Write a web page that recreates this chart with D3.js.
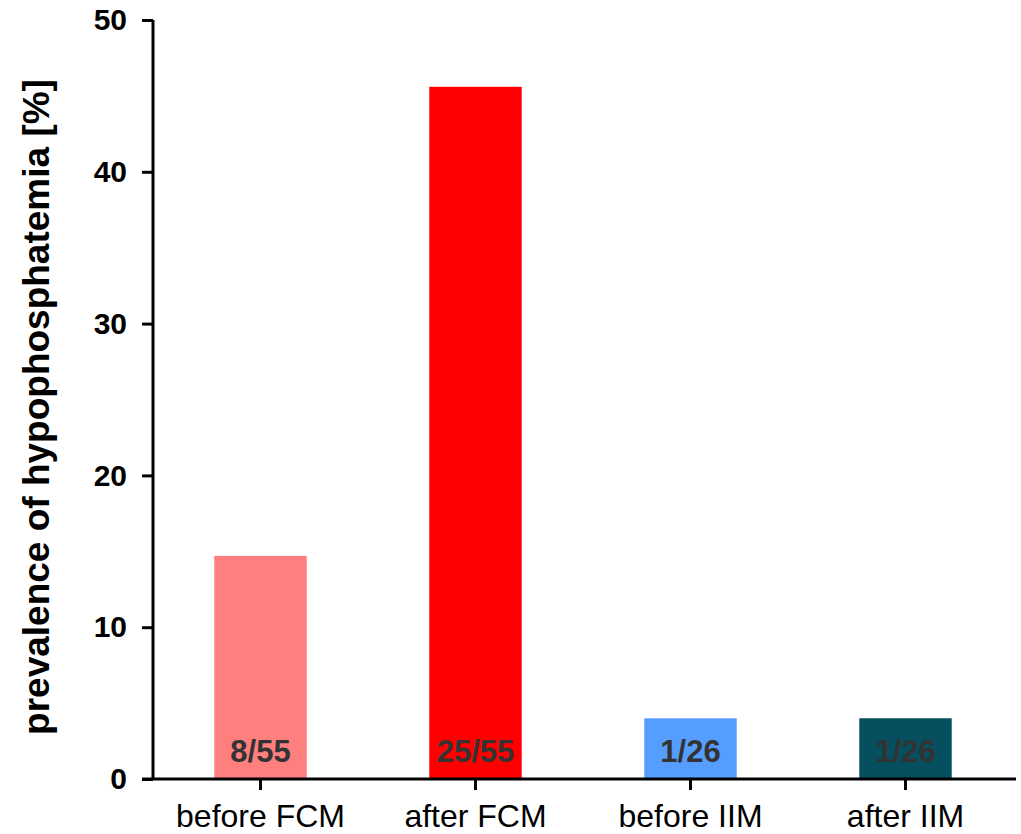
<!DOCTYPE html>
<html><head><meta charset="utf-8">
<script src="https://cdn.jsdelivr.net/npm/d3@7"></script>
<style>body{margin:0;background:#fff;} text{font-family:"Liberation Sans",Arial,sans-serif;}</style>
</head><body>
<svg id="c" width="1021" height="834"></svg>
<script>
const categories = ["before FCM", "after FCM", "before IIM", "after IIM"];
const values = [14.7, 45.6, 4.0, 4.0];
const barLabels = ["8/55", "25/55", "1/26", "1/26"];
const colors = ["#FF7F7F", "#FF0000", "#559EFF", "#064F5F"];
const yTicks = [0, 10, 20, 30, 40, 50];

const svg = d3.select("#c");
const x0 = 153, x1 = 1013, yTop = 20, yBot = 779;
const x = d3.scaleBand().domain(categories).range([x0, x1]).paddingInner(0.57).paddingOuter(0.285);
const y = d3.scaleLinear().domain([0, 50]).range([yBot, yTop]);

// bars
svg.selectAll("rect.bar").data(categories).join("rect")
  .attr("x", d => x(d)).attr("width", x.bandwidth())
  .attr("y", (d, i) => y(values[i])).attr("height", (d, i) => y(0) - y(values[i]))
  .attr("fill", (d, i) => colors[i]);

// bar labels
svg.selectAll("text.bl").data(categories).join("text")
  .attr("x", d => x(d) + x.bandwidth() / 2).attr("y", y(0) - 17)
  .attr("text-anchor", "middle").attr("font-size", 31).attr("font-weight", "bold")
  .attr("fill", "#333").text((d, i) => barLabels[i]);

// y axis
const yAxis = svg.append("g").attr("transform", `translate(${x0},0)`)
  .call(d3.axisLeft(y).tickValues(yTicks).tickSize(11).tickPadding(15).tickSizeOuter(0));
yAxis.attr("font-size", null);
yAxis.select(".domain").attr("stroke", "#000").attr("stroke-width", 3)
  .attr("d", `M0,${yTop}V${yBot}`);
yAxis.selectAll(".tick line").attr("stroke", "#000").attr("stroke-width", 3);
yAxis.selectAll(".tick text").attr("font-size", 30).attr("font-weight", "bold").attr("fill", "#000")
  .style("font-family", "Liberation Sans, Arial, sans-serif");

// x axis
const xAxis = svg.append("g").attr("transform", `translate(0,${yBot})`)
  .call(d3.axisBottom(x).tickSize(11).tickPadding(14).tickSizeOuter(0));
xAxis.attr("font-size", null);
xAxis.select(".domain").attr("stroke", "#000").attr("stroke-width", 3)
  .attr("d", `M142,0H1016`);
xAxis.selectAll(".tick line").attr("stroke", "#000").attr("stroke-width", 3);
xAxis.selectAll(".tick text").attr("font-size", 32).attr("fill", "#000")
  .style("font-family", "Liberation Sans, Arial, sans-serif");

// y label
svg.append("text").attr("transform", `translate(49,${407}) rotate(-90)`)
  .attr("text-anchor", "middle").attr("font-size", 37).attr("font-weight", "bold")
  .text("prevalence of hypophosphatemia [%]");
</script>
</body></html>
